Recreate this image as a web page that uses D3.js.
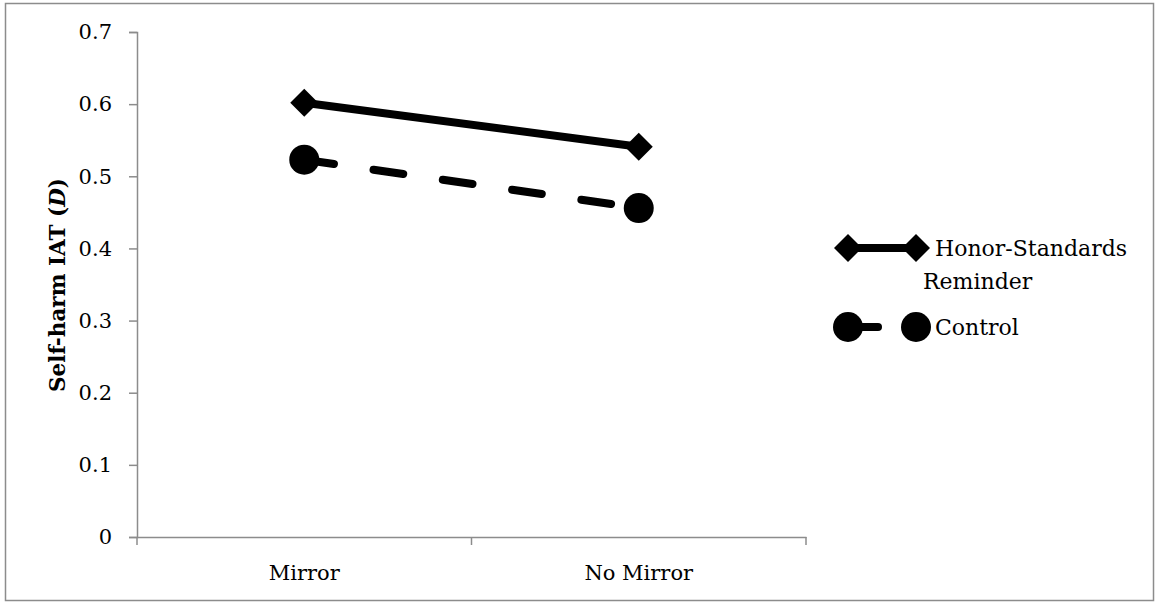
<!DOCTYPE html>
<html><head><meta charset="utf-8">
<script src="https://cdn.jsdelivr.net/npm/d3@7"></script>
<style>body{margin:0;background:#fff}svg{display:block}</style>
</head><body>
<svg id="c" width="1160" height="603"></svg>
<script>
const categories = ["Mirror", "No Mirror"];
const honorValues = [0.602, 0.541];
const controlValues = [0.523, 0.456];
const yTicks = [0, 0.1, 0.2, 0.3, 0.4, 0.5, 0.6, 0.7];
const seriesNames = ["Honor-Standards|Reminder", "Control"];

const svg = d3.select("#c");
const font = "'DejaVu Serif', serif";
svg.append("rect").attr("x",5.5).attr("y",3.5).attr("width",1148).attr("height",597)
  .attr("fill","#fff").attr("stroke","#8c8c8c").attr("stroke-width",1.5);

const x0 = 137, x1 = 806;
const y = d3.scaleLinear().domain([0,0.7]).range([537,32]);
const x = d3.scaleBand().domain(categories).range([x0,x1]);
const cx = d => x(d) + x.bandwidth()/2;

const yAxis = svg.append("g").attr("transform",`translate(${x0},0)`)
  .call(d3.axisLeft(y).tickValues(yTicks).tickSize(8).tickPadding(17).tickFormat(d=>d===0?"0":d3.format(".1f")(d)));
yAxis.attr("font-family",font).attr("font-size",21);
yAxis.select(".domain").attr("stroke","#8c8c8c").attr("stroke-width",1.5);
yAxis.selectAll(".tick line").attr("stroke","#8c8c8c").attr("stroke-width",1.5);
yAxis.selectAll("text").style("font-family",font).style("font-size","21px").attr("fill","#000");

const xAxis = svg.append("g").attr("transform",`translate(0,${y(0)})`)
  .call(d3.axisBottom(x).tickValues([]).tickSizeOuter(0));
xAxis.select(".domain").attr("stroke","#8c8c8c").attr("stroke-width",1.5);
const bounds = [x0, x0 + x.bandwidth(), x1];
xAxis.selectAll(".bt").data(bounds).enter().append("line")
  .attr("x1",d=>d).attr("x2",d=>d).attr("y1",0).attr("y2",8)
  .attr("stroke","#8c8c8c").attr("stroke-width",1.5);
xAxis.selectAll(".cl").data(categories).enter().append("text")
  .attr("x",d=>cx(d)).attr("y",43).attr("text-anchor","middle")
  .style("font-family",font).style("font-size","21px").attr("fill","#000").text(d=>d);

// Y title
const yt = svg.append("text").attr("transform","translate(65,285) rotate(-90)")
  .attr("text-anchor","middle").style("font-family",font).style("font-size","21.5px")
  .attr("font-weight","bold").attr("fill","#000");
yt.append("tspan").text("Self-harm IAT (");
yt.append("tspan").attr("font-style","italic").text("D");
yt.append("tspan").text(")");

const line = d3.line().x((d,i)=>cx(categories[i])).y(d=>y(d));
svg.append("path").datum(controlValues).attr("d",line).attr("fill","none")
  .attr("stroke","#000").attr("stroke-width",8).attr("stroke-linecap","round")
  .attr("stroke-dasharray","30,40");
svg.append("path").datum(honorValues).attr("d",line).attr("fill","none")
  .attr("stroke","#000").attr("stroke-width",8);

const diamond = s => `M0,${-s}L${s},0L0,${s}L${-s},0Z`;
svg.selectAll(".hd").data(honorValues).enter().append("path")
  .attr("d",diamond(14)).attr("transform",(d,i)=>`translate(${cx(categories[i])},${y(d)})`).attr("fill","#000");
svg.selectAll(".cc").data(controlValues).enter().append("circle")
  .attr("cx",(d,i)=>cx(categories[i])).attr("cy",d=>y(d)).attr("r",15).attr("fill","#000");

// legend
const lg = svg.append("g");
const lx0 = 848, lx1 = 916;
const ly1 = 248, ly2 = 327;
lg.append("line").attr("x1",lx0).attr("x2",lx1).attr("y1",ly1).attr("y2",ly1).attr("stroke","#000").attr("stroke-width",8);
[lx0,lx1].forEach(v=>lg.append("path").attr("d",diamond(14)).attr("transform",`translate(${v},${ly1})`).attr("fill","#000"));
lg.append("line").attr("x1",lx0).attr("x2",lx0+30).attr("y1",ly2).attr("y2",ly2).attr("stroke","#000").attr("stroke-width",8).attr("stroke-linecap","round");
[lx0,lx1].forEach(v=>lg.append("circle").attr("cx",v).attr("cy",ly2).attr("r",15).attr("fill","#000"));
const n1 = seriesNames[0].split("|");
const ls = t => t.style("font-family",font).style("font-size","22px").attr("fill","#000");
ls(lg.append("text").attr("x",935).attr("y",256).text(n1[0]));
ls(lg.append("text").attr("x",923).attr("y",289).text(n1[1]));
ls(lg.append("text").attr("x",935).attr("y",335).text(seriesNames[1]));
</script>
</body></html>
